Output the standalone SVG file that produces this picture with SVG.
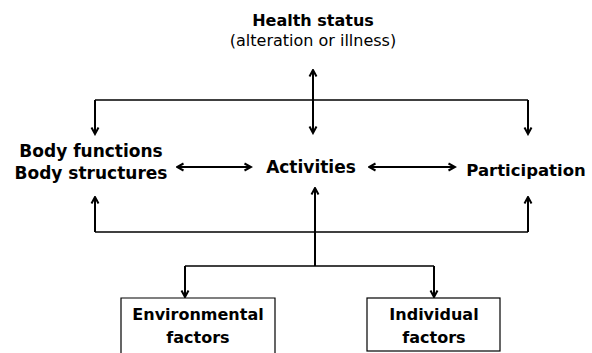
<svg xmlns="http://www.w3.org/2000/svg" width="592" height="353" viewBox="0 0 592 353">
<style>
text{font-family:"DejaVu Sans","Liberation Sans",sans-serif;fill:#000}
.b{font-weight:bold;font-size:17px}
.m{text-anchor:middle}
.r{font-size:16px}
.ln{stroke:#000;stroke-width:1.5;fill:none}
.ar{stroke:#000;stroke-width:2;fill:none}
.box{stroke:#000;stroke-width:1.2;fill:#fff}
</style>
<defs>
<marker id="ah" markerUnits="userSpaceOnUse" viewBox="0 0 10 10" refX="8.5" refY="5" markerWidth="10" markerHeight="10" orient="auto-start-reverse">
<path d="M2,1.5 L8.5,5 L2,8.5" fill="none" stroke="#000" stroke-width="2"/>
</marker>
</defs>
<g id="connectors">
<line class="ar" x1="313" y1="70" x2="313" y2="133" marker-start="url(#ah)" marker-end="url(#ah)"/>
<line class="ln" x1="95" y1="100" x2="528" y2="100"/>
<line class="ar" x1="95" y1="100" x2="95" y2="134" marker-end="url(#ah)"/>
<line class="ar" x1="528" y1="100" x2="528" y2="134" marker-end="url(#ah)"/>
<line class="ar" x1="177" y1="167" x2="251" y2="167" marker-start="url(#ah)" marker-end="url(#ah)"/>
<line class="ar" x1="369" y1="167" x2="455" y2="167" marker-start="url(#ah)" marker-end="url(#ah)"/>
<line class="ln" x1="95" y1="232" x2="528" y2="232"/>
<line class="ar" x1="95" y1="232" x2="95" y2="197" marker-end="url(#ah)"/>
<line class="ar" x1="528" y1="232" x2="528" y2="197" marker-end="url(#ah)"/>
<line class="ar" x1="315" y1="266" x2="315" y2="188" marker-end="url(#ah)"/>
<line class="ln" x1="185" y1="266" x2="434" y2="266"/>
<line class="ar" x1="185" y1="266" x2="185" y2="297" marker-end="url(#ah)"/>
<line class="ar" x1="434" y1="266" x2="434" y2="297" marker-end="url(#ah)"/>
</g>
<g id="health">
<text class="b m" x="313" y="26" style="font-size:16px">Health status</text>
<text class="r m" x="313" y="46">(alteration or illness)</text>
</g>
<g id="body">
<text class="b m" x="91" y="157">Body functions</text>
<text class="b m" x="91" y="179">Body structures</text>
</g>
<g id="activities">
<text class="b m" x="311" y="173">Activities</text>
</g>
<g id="participation">
<text class="b m" x="526" y="176" style="font-size:16.5px">Participation</text>
</g>
<g id="environmental">
<path class="box" d="M121,354 V298 H275 V354"/>
<text class="b m" x="198" y="320" style="font-size:16px">Environmental</text>
<text class="b m" x="198" y="343" style="font-size:16px">factors</text>
</g>
<g id="individual">
<rect class="box" x="367" y="298" width="133" height="53"/>
<text class="b m" x="434" y="320" style="font-size:16px">Individual</text>
<text class="b m" x="434" y="343" style="font-size:16px">factors</text>
</g>
</svg>
